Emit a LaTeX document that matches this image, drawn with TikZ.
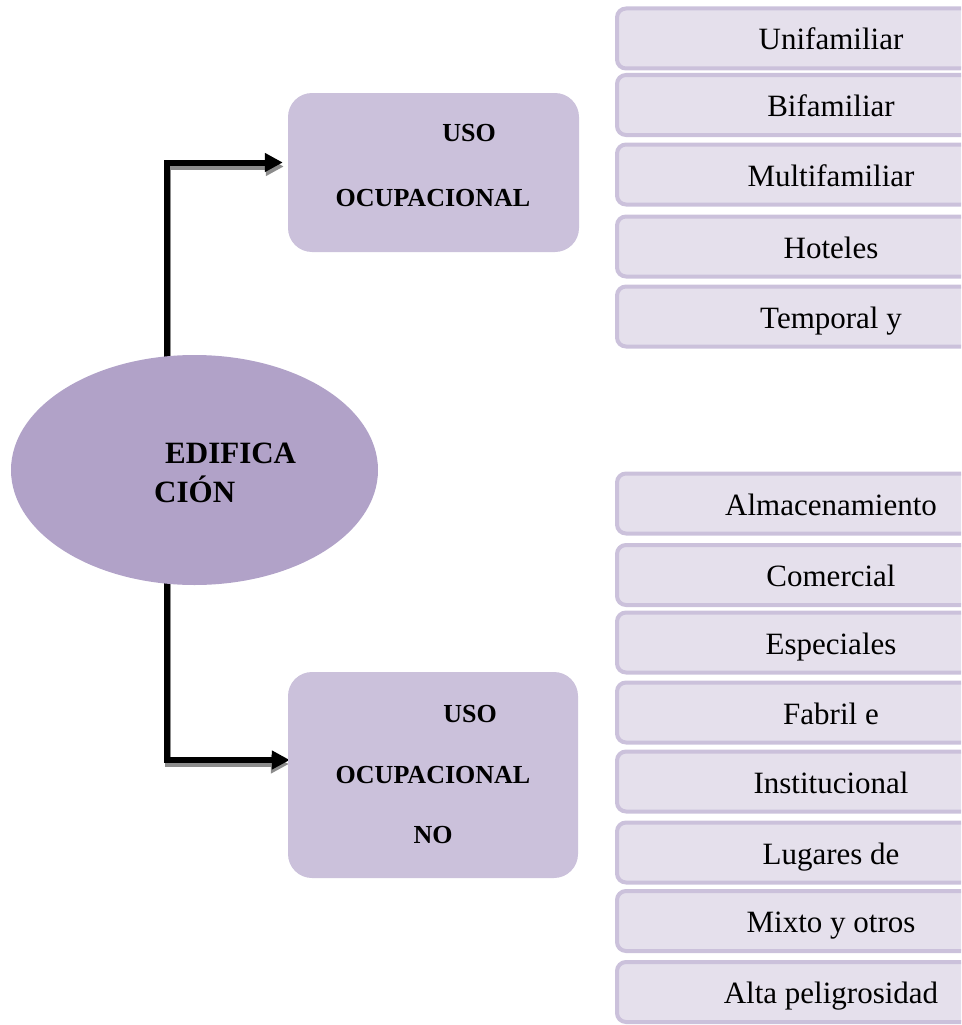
\documentclass[tikz,border=0pt]{standalone}
\usepackage{fontspec}
\setmainfont{Liberation Serif}
\usetikzlibrary{shapes.geometric,arrows.meta,calc,backgrounds}
\definecolor{ellfill}{HTML}{B1A2C8}
\definecolor{midfill}{HTML}{CBC1DB}
\definecolor{itemfill}{HTML}{E5E0EC}
\definecolor{itemline}{HTML}{CBC1DB}
\definecolor{shadowgray}{HTML}{8C8C8C}
\begin{document}
\begin{tikzpicture}[x=1pt,y=-1pt,
  itembox/.style={draw=itemline, line width=4pt, fill=itemfill, rounded corners=9pt,
    minimum width=428pt, minimum height=60pt, text height=28pt, text depth=5pt,
    inner sep=0pt, font=\fontsize{31}{36}\selectfont},
  midbox/.style={fill=midfill, rounded corners=24pt, inner sep=0pt},
  midtext/.style={anchor=base, inner sep=0pt, font=\fontsize{26}{31}\selectfont\bfseries},
  edtext/.style={anchor=base west, inner sep=0pt, font=\fontsize{31}{36}\selectfont\bfseries},
  conn/.style={line width=6pt, -{Triangle[length=18pt,width=18pt]}, line join=miter},
  connshadow/.style={conn, draw=shadowgray}]
\useasboundingbox (0,0) rectangle (961,1025);
\clip (0,0) rectangle (961,1025);

% central ellipse
\node[ellipse, fill=ellfill, minimum width=367pt, minimum height=230pt, inner sep=0pt] (edif) at (194.5,470) {};
\node[edtext] (edifA) at (165,463) {EDIFICA};
\node[edtext] (edifB) at (154,502) {CIÓN};

% middle boxes
\node[midbox, minimum width=291pt, minimum height=159pt] (uso) at (433.5,172.5) {};
\node[midtext] (usoA) at (469,141) {USO};
\node[midtext] (usoB) at (433,206) {OCUPACIONAL};

\node[midbox, minimum width=290pt, minimum height=206pt] (usono) at (433,775) {};
\node[midtext] (usonoA) at (470,722) {USO};
\node[midtext] (usonoB) at (433,783) {OCUPACIONAL};
\node[midtext] (usonoC) at (433,843) {NO};

% top list
\node[itembox] (t1) at (831,38.5) {Unifamiliar};
\node[itembox] (t2) at (831,105) {Bifamiliar};
\node[itembox] (t3) at (831,174.5) {Multifamiliar};
\node[itembox] (t4) at (831,246.5) {Hoteles};
\node[itembox] (t5) at (831,316.5) {Temporal y};

% bottom list
\node[itembox] (b1) at (831,503.5) {Almacenamiento};
\node[itembox] (b2) at (831,575) {Comercial};
\node[itembox] (b3) at (831,642.5) {Especiales};
\node[itembox] (b4) at (831,712.5) {Fabril e};
\node[itembox] (b5) at (831,781.5) {Institucional};
\node[itembox] (b6) at (831,852.5) {Lugares de};
\node[itembox] (b7) at (831,921) {Mixto y otros};
\node[itembox] (b8) at (831,992) {Alta peligrosidad};

% connectors
\coordinate (up1) at (167,420);
\coordinate (dn1) at (167,520);
\begin{scope}[on background layer]
  \draw[connshadow] ($(up1)+(1,4)$) |- ($(uso.west)+(-4,-6)$);
  \draw[conn] (up1) |- ($(uso.west)+(-5,-10)$);
  \draw[connshadow] ($(dn1)+(1,4)$) |- ($(usono.west)+(1,-11)$);
  \draw[conn] (dn1) |- ($(usono.west)+(2,-15)$);
\end{scope}
\end{tikzpicture}
\end{document}
